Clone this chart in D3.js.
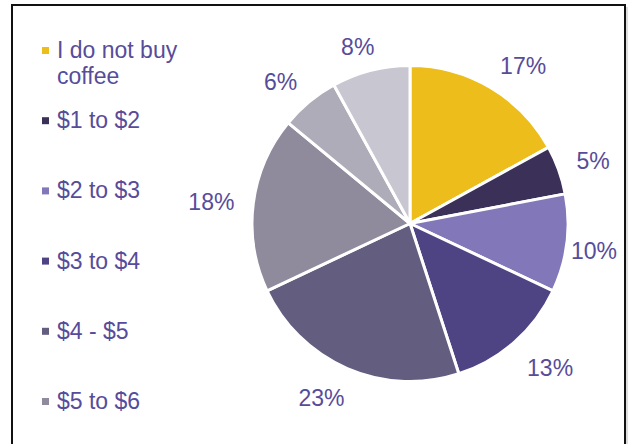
<!DOCTYPE html>
<html>
<head>
<meta charset="utf-8">
<script src="https://cdn.jsdelivr.net/npm/d3@7/dist/d3.min.js"></script>
<style>
  html, body { margin: 0; padding: 0; background: #fff; }
  svg { display: block; }
  text { font-family: "Liberation Sans", Arial, sans-serif; }
</style>
</head>
<body>
<svg id="chart" width="628" height="444"></svg>
<script>
// Daily coffee spend: share of respondents per price band
const categories = ["I do not buy coffee", "$1 to $2", "$2 to $3", "$3 to $4", "$4 - $5", "$5 to $6", "$6 to $7", "More than $7"];
const shares = [17, 5, 10, 13, 23, 18, 6, 8];
const sliceColors = ["#ECBD1B", "#3A3058", "#8277B9", "#4E4484", "#635D7F", "#8F8B9C", "#AEACB8", "#C8C6D0"];
const textColor = "#574C9A";

const W = 628, H = 444;
const svg = d3.select("#chart");

// Chart frame (open at the bottom edge of the view)
svg.append("path")
  .attr("d", `M12,${H + 2} V5 H625 V${H + 2}`)
  .attr("fill", "none")
  .attr("stroke", "#111")
  .attr("stroke-width", 2);
svg.append("line")
  .attr("x1", 627).attr("x2", 627).attr("y1", 7).attr("y2", H + 2)
  .attr("stroke", "#bbb").attr("stroke-width", 1);

// Legend: one entry per slot; entries whose slot falls below the frame are left out
const legend = svg.append("g").attr("transform", "translate(42,0)");
const legendY = d3.scaleLinear().domain([0, 1]).range([58, 128.2]);
const legendLines = d => d === "I do not buy coffee" ? ["I do not buy", "coffee"] : [d];
const legendData = categories
  .map((name, i) => ({ name, i }))
  .filter(d => legendY(d.i) + 10 < H);
const items = legend.selectAll("g.item")
  .data(legendData)
  .join("g")
  .attr("class", "item")
  .attr("transform", d => `translate(0,${legendY(d.i)})`);
items.append("rect")
  .attr("x", 0).attr("y", -11).attr("width", 7).attr("height", 7)
  .attr("fill", d => sliceColors[d.i]);
items.append("text")
  .attr("x", 15)
  .attr("fill", textColor)
  .attr("font-size", 23)
  .selectAll("tspan")
  .data(d => legendLines(d.name))
  .join("tspan")
  .attr("x", 15)
  .attr("dy", (d, j) => j === 0 ? 0 : 25.5)
  .text(d => d);

// Pie
const cx = 410, cy = 223.5, r = 158;
const pie = d3.pie().sort(null).value(d => d);
const arcs = pie(shares);
const arc = d3.arc().innerRadius(0).outerRadius(r);

const g = svg.append("g").attr("transform", `translate(${cx},${cy})`);
g.selectAll("path")
  .data(arcs)
  .join("path")
  .attr("d", arc)
  .attr("fill", (d, i) => sliceColors[i])
  .attr("stroke", "#fff")
  .attr("stroke-width", 3)
  .attr("stroke-linejoin", "round");

// Data labels placed just outside each slice, kept inside the frame
const fs = 23;
const labelGap = 177;
const clamp = v => Math.max(-1, Math.min(1, v));
const labels = g.selectAll("text.pct")
  .data(arcs)
  .join("text")
  .attr("class", "pct")
  .attr("fill", textColor)
  .attr("font-size", fs)
  .attr("text-anchor", "middle")
  .text(d => d.data + "%");

labels.each(function(d) {
  const t = d3.select(this);
  const bb = this.getBBox();
  const hw = bb.width / 2, hh = 8.5;
  const a = (d.startAngle + d.endAngle) / 2;
  const s = Math.sin(a), c = Math.cos(a);
  let x = labelGap * s + hw * clamp(2 * s);
  let y = -labelGap * c - hh * clamp(2 * c) + 3;
  const maxRight = 617 - cx;
  if (x + hw > maxRight) x = maxRight - hw;
  t.attr("x", x).attr("y", y + 0.36 * fs);
});
</script>
</body>
</html>
